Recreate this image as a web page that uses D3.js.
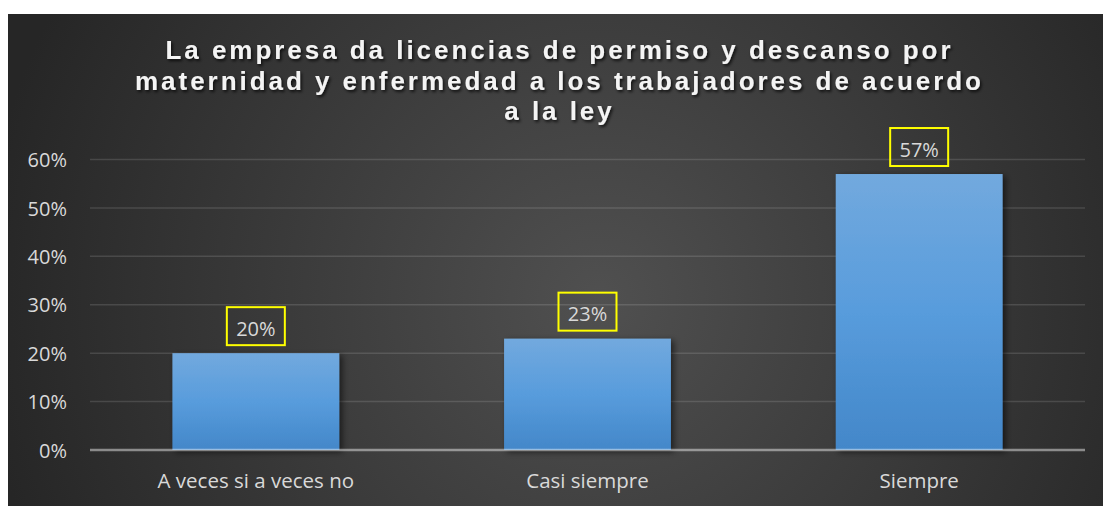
<!DOCTYPE html>
<html>
<head>
<meta charset="utf-8">
<script src="https://cdn.jsdelivr.net/npm/d3@7"></script>
<style>
  html, body { margin: 0; padding: 0; background: #ffffff; }
  svg { display: block; }
</style>
</head>
<body>
<script>
const categories = ["A veces si a veces no", "Casi siempre", "Siempre"];
const values = [0.20, 0.23, 0.57];
const valueLabels = ["20%", "23%", "57%"];
const yTicks = [0, 0.1, 0.2, 0.3, 0.4, 0.5, 0.6];
const titleLines = [
  "La empresa da licencias de permiso y descanso por",
  "maternidad y enfermedad a los trabajadores de acuerdo",
  "a la ley"
];

const W = 1103, H = 506;
const svg = d3.select("body").append("svg").attr("width", W).attr("height", H);
const defs = svg.append("defs");

const bg = defs.append("radialGradient").attr("id", "bg")
  .attr("gradientUnits", "userSpaceOnUse")
  .attr("cx", 600).attr("cy", 300).attr("r", 620);
bg.append("stop").attr("offset", "0").attr("stop-color", "#505050");
bg.append("stop").attr("offset", "1").attr("stop-color", "#262626");

const barG = defs.append("linearGradient").attr("id", "barG")
  .attr("x1", 0).attr("y1", 0).attr("x2", 0).attr("y2", 1);
barG.append("stop").attr("offset", "0").attr("stop-color", "#72a9de");
barG.append("stop").attr("offset", "0.5").attr("stop-color", "#589cdc");
barG.append("stop").attr("offset", "1").attr("stop-color", "#4387c9");

const shadow = defs.append("filter").attr("id", "shadow")
  .attr("x", "-20%").attr("y", "-20%").attr("width", "150%").attr("height", "150%");
shadow.append("feDropShadow").attr("dx", 3).attr("dy", 2).attr("stdDeviation", 3)
  .attr("flood-color", "#000").attr("flood-opacity", 0.55);

const tshadow = defs.append("filter").attr("id", "tshadow")
  .attr("x", "-5%").attr("y", "-30%").attr("width", "110%").attr("height", "160%");
tshadow.append("feDropShadow").attr("dx", 1.5).attr("dy", 2).attr("stdDeviation", 1.5)
  .attr("flood-color", "#000").attr("flood-opacity", 0.75);

svg.append("rect").attr("x", 8).attr("y", 14).attr("width", W - 8).attr("height", H - 14)
  .attr("fill", "url(#bg)");

const y = d3.scaleLinear().domain([0, 0.6]).range([450, 159.5]);
const x = d3.scaleBand().domain(categories).range([90, 1085])
  .paddingInner(0.497).paddingOuter(0.2485);

// gridlines
svg.append("g").selectAll("line").data(yTicks.filter(d => d > 0)).join("line")
  .attr("x1", 90).attr("x2", 1085)
  .attr("y1", d => y(d)).attr("y2", d => y(d))
  .attr("stroke", "rgba(255,255,255,0.13)").attr("stroke-width", 1.5);

// y axis labels
const yAxis = d3.axisLeft(y).tickValues(yTicks).tickFormat(d3.format(".0%")).tickSize(0).tickPadding(0);
const ya = svg.append("g").attr("transform", "translate(67,0)").call(yAxis);
ya.select(".domain").remove();
ya.selectAll("text").attr("fill", "#d9d9d9").attr("font-family", "'Open Sans', sans-serif")
  .attr("font-size", 20).attr("dy", "0.36em");

// bars
svg.append("g").selectAll("rect").data(values).join("rect")
  .attr("x", (d, i) => x(categories[i]))
  .attr("width", x.bandwidth())
  .attr("y", d => y(d))
  .attr("height", d => y(0) - y(d))
  .attr("fill", "url(#barG)")
  .attr("filter", "url(#shadow)");

// x axis
const xAxis = d3.axisBottom(x).tickSize(0).tickPadding(0);
const xa = svg.append("g").attr("transform", `translate(0,${y(0)})`).call(xAxis);
xa.select(".domain").remove();
xa.selectAll("text").attr("fill", "#d9d9d9").attr("font-family", "'Open Sans', sans-serif")
  .attr("font-size", 20.5).attr("dy", "0").attr("y", 38);

svg.append("line").attr("x1", 90).attr("x2", 1085).attr("y1", y(0)).attr("y2", y(0))
  .attr("stroke", "rgba(255,255,255,0.45)").attr("stroke-width", 2.5);

// data labels
const lg = svg.append("g").selectAll("g").data(values).join("g")
  .attr("transform", (d, i) => `translate(${x(categories[i]) + x.bandwidth() / 2},${y(d) - 8})`);
lg.append("rect").attr("x", -29).attr("y", -38).attr("width", 58).attr("height", 38)
  .attr("fill", "none").attr("stroke", "#ffff00").attr("stroke-width", 2);
lg.append("text").text((d, i) => valueLabels[i])
  .attr("text-anchor", "middle").attr("y", -9.5)
  .attr("fill", "#d9d9d9").attr("font-family", "'Open Sans', sans-serif").attr("font-size", 20);

// title
const tg = svg.append("g").attr("filter", "url(#tshadow)");
const tl = tg.selectAll("text").data(titleLines).join("text")
  .attr("x", 558).attr("y", (d, i) => 59 + i * 30.5)
  .attr("text-anchor", "middle")
  .attr("fill", "#f4f4f4")
  .attr("font-family", "'Liberation Sans', Arial, sans-serif")
  .attr("font-weight", "bold").attr("font-size", 26)
  .text(d => d);
const w0 = tl.nodes()[0].getComputedTextLength();
const ls = (785 - w0) / (titleLines[0].length - 1);
tl.attr("letter-spacing", ls + "px").attr("dx", ls / 2);
</script>
</body>
</html>
